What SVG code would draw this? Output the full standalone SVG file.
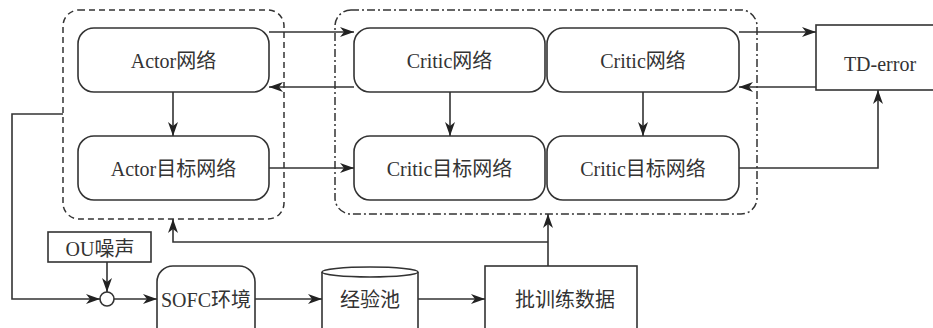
<svg xmlns="http://www.w3.org/2000/svg" width="933" height="328" viewBox="0 0 933 328">
<style>
.box{fill:#fff;stroke:#333;stroke-width:1.6}
.grp{fill:none;stroke:#333;stroke-width:1.5}
.ln{fill:none;stroke:#333;stroke-width:1.6}
.t{font-family:"Liberation Serif","Noto Sans CJK SC",serif;font-size:20px;fill:#333;text-anchor:middle}
</style>
<defs>
<marker id="ar" viewBox="0 0 14 10" refX="14" refY="5" markerWidth="14" markerHeight="10" markerUnits="userSpaceOnUse" orient="auto">
<path d="M0,0 L14,5 L0,10 L4,5 Z" fill="#222"/>
</marker>
</defs>
<rect width="933" height="328" fill="#fff"/>
<g id="actor-group"><rect class="grp" x="63" y="10" width="221" height="209" rx="16" stroke-dasharray="6,4"/></g>
<g id="critic-group"><rect class="grp" x="335" y="10" width="422" height="204" rx="16" stroke-dasharray="8,3,2,3"/></g>
<g id="actor"><rect class="box" x="78" y="28" width="191" height="64" rx="16"/><text class="t" x="173.5" y="68">Actor网络</text></g>
<g id="actor-target"><rect class="box" x="78" y="136" width="191" height="64" rx="16"/><text class="t" x="173.5" y="176">Actor目标网络</text></g>
<g id="critic1"><rect class="box" x="354" y="28" width="191" height="64" rx="16"/><text class="t" x="449.5" y="68">Critic网络</text></g>
<g id="critic2"><rect class="box" x="547" y="28" width="192" height="64" rx="16"/><text class="t" x="643" y="68">Critic网络</text></g>
<g id="critic-target1"><rect class="box" x="354" y="136" width="191" height="64" rx="16"/><text class="t" x="449.5" y="176">Critic目标网络</text></g>
<g id="critic-target2"><rect class="box" x="547" y="136" width="192" height="64" rx="16"/><text class="t" x="643" y="176">Critic目标网络</text></g>
<g id="td-error"><rect class="box" x="816" y="25" width="130" height="65"/><text class="t" x="880" y="71">TD-error</text></g>
<g id="ou-noise"><rect class="box" x="48" y="232" width="103" height="30"/><text class="t" x="100" y="256">OU噪声</text></g>
<g id="sum"><circle class="box" cx="107" cy="299" r="7"/></g>
<g id="sofc"><rect class="box" x="157" y="266" width="98" height="80" rx="16"/><text class="t" x="206" y="307">SOFC环境</text></g>
<g id="pool"><path class="box" d="M322,272 L322,340 L418,340 L418,272"/><ellipse class="box" cx="370" cy="272" rx="48" ry="5"/><text class="t" x="370" y="307">经验池</text></g>
<g id="batch"><rect class="box" x="485" y="266" width="152" height="80"/><text class="t" x="565" y="307">批训练数据</text></g>
<g id="connectors">
<path class="ln" d="M269,32 H354" marker-end="url(#ar)"/>
<path class="ln" d="M354,87 H269" marker-end="url(#ar)"/>
<path class="ln" d="M173,92 V136" marker-end="url(#ar)"/>
<path class="ln" d="M269,168 H354" marker-end="url(#ar)"/>
<path class="ln" d="M450,92 V136" marker-end="url(#ar)"/>
<path class="ln" d="M643,92 V136" marker-end="url(#ar)"/>
<path class="ln" d="M739,32 H816" marker-end="url(#ar)"/>
<path class="ln" d="M816,87 H739" marker-end="url(#ar)"/>
<path class="ln" d="M739,168 H878 V90" marker-end="url(#ar)"/>
<path class="ln" d="M63,114 H12 V299 H100" marker-end="url(#ar)"/>
<path class="ln" d="M107,262 V292" marker-end="url(#ar)"/>
<path class="ln" d="M114,299 H157" marker-end="url(#ar)"/>
<path class="ln" d="M255,299 H322" marker-end="url(#ar)"/>
<path class="ln" d="M418,299 H485" marker-end="url(#ar)"/>
<path class="ln" d="M548,266 V214" marker-end="url(#ar)"/>
<path class="ln" d="M548,242 H173 V219" marker-end="url(#ar)"/>
</g>
</svg>
